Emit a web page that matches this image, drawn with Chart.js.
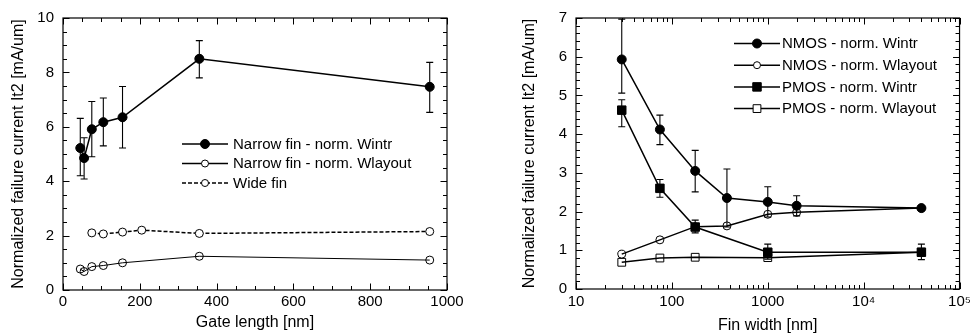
<!DOCTYPE html>
<html><head><meta charset="utf-8">
<script src="https://cdn.jsdelivr.net/npm/chart.js@4.4.1/dist/chart.umd.min.js"></script>
<style>
html,body{margin:0;padding:0;background:#fff;width:975px;height:336px;overflow:hidden}
.box{position:absolute;top:0;height:336px}
#l{left:0;width:487px}
#r{left:487px;width:488px}
</style></head><body>
<div class="box" id="l"><canvas id="c1"></canvas></div>
<div class="box" id="r"><canvas id="c2"></canvas></div>
<script>
// ---- Left chart data ----
const gateLength = [45, 55, 75, 105, 155, 355, 955];
const narrowWintr = [5.22, 4.85, 5.91, 6.17, 6.35, 8.5, 7.47];
const narrowWintrHigh = [6.31, 5.6, 6.93, 7.06, 7.48, 9.17, 8.37];
const narrowWintrLow = [4.2, 4.08, 4.9, 5.3, 5.22, 7.8, 6.53];
const narrowWlayout = [0.77, 0.68, 0.86, 0.9, 1.0, 1.24, 1.1];
const wideGateLength = [75, 105, 155, 205, 355, 955];
const wideFin = [2.1, 2.06, 2.13, 2.2, 2.08, 2.15];
const gateTicks = [0, 200, 400, 600, 800, 1000];
const leftYTicks = [0, 2, 4, 6, 8, 10];

// ---- Right chart data ----
const finWidth = [30, 75, 175, 375, 1000, 2000, 40000];
const nmosWintr = [5.93, 4.12, 3.05, 2.35, 2.25, 2.15, 2.09];
const nmosHigh = [6.97, 4.49, 3.58, 3.1, 2.64, 2.41, null];
const nmosLow = [5.06, 3.73, 2.51, 1.6, 1.86, 1.89, null];
const nmosWlayout = [0.9, 1.27, 1.61, 1.63, 1.93, 1.98, 2.09];
const pmosFinWidth = [30, 75, 175, 1000, 40000];
const pmosWintr = [4.62, 2.6, 1.6, 0.95, 0.95];
const pmosHigh = [4.89, 2.83, 1.78, 1.16, 1.16];
const pmosLow = [4.19, 2.37, 1.45, 0.77, 0.76];
const pmosWlayout = [0.69, 0.8, 0.82, 0.81, 0.95];
const finTicks = [10, 100, 1000, 10000, 100000];
const finTickLabels = ['10', '100', '1000', '10\u2074', '10\u2075'];
const rightYTicks = [0, 1, 2, 3, 4, 5, 6, 7];

const FONT = '"Liberation Sans", Arial, Helvetica, sans-serif';
const FS = 15;
Chart.defaults.font.family = FONT;
Chart.defaults.font.size = FS;
Chart.defaults.color = '#000';

const pts = (xs, ys) => xs.map((x, i) => ({x, y: ys[i]}));
function steps(min, max, step) { const a = []; for (let v = min; v <= max + 1e-9; v += step) a.push(+v.toFixed(6)); return a; }
function logMinor(minExp, maxExp) { const a = []; for (let e = minExp; e < maxExp; e++) for (let k = 1; k < 10; k++) a.push(k * Math.pow(10, e)); a.push(Math.pow(10, maxExp)); return a; }

const framePlugin = {
  id: 'frame',
  beforeDatasetsDraw(chart) {
    const ctx = chart.ctx, xs = chart.scales.x, ys = chart.scales.y;
    ctx.save();
    ctx.strokeStyle = '#000'; ctx.lineWidth = 1.1;
    chart.data.datasets.forEach(ds => {
      if (!ds.errHigh) return;
      ds.data.forEach((p, i) => {
        const hi = ds.errHigh[i], lo = ds.errLow[i];
        if (hi == null) return;
        const x = xs.getPixelForValue(p.x), yh = ys.getPixelForValue(hi), yl = ys.getPixelForValue(lo);
        ctx.beginPath();
        ctx.moveTo(x, yh); ctx.lineTo(x, yl);
        ctx.moveTo(x - 3.5, yh); ctx.lineTo(x + 3.5, yh);
        ctx.moveTo(x - 3.5, yl); ctx.lineTo(x + 3.5, yl);
        ctx.stroke();
      });
    });
    ctx.restore();
  },
  afterDraw(chart, args, o) {
    const ctx = chart.ctx, a = chart.chartArea, xs = chart.scales.x, ys = chart.scales.y;
    ctx.save();
    ctx.strokeStyle = '#000';
    ctx.lineWidth = 1.2;
    ctx.strokeRect(a.left, a.top, a.right - a.left, a.bottom - a.top);
    ctx.lineWidth = 1;
    ctx.beginPath();
    o.xMinor.forEach(v => {
      const x = Math.round(xs.getPixelForValue(v)) + 0.5;
      const L = o.xMajor.includes(v) ? 6.5 : 4;
      ctx.moveTo(x, a.bottom); ctx.lineTo(x, a.bottom - L);
      ctx.moveTo(x, a.top); ctx.lineTo(x, a.top + L);
    });
    o.yMinor.forEach(v => {
      const y = Math.round(ys.getPixelForValue(v)) + 0.5;
      const L = o.yMajor.includes(v) ? 6.5 : 4;
      ctx.moveTo(a.left, y); ctx.lineTo(a.left + L, y);
      ctx.moveTo(a.right, y); ctx.lineTo(a.right - L, y);
    });
    ctx.stroke();
    // legend
    const lg = o.legend;
    ctx.font = FS + 'px ' + FONT;
    ctx.textBaseline = 'middle';
    ctx.fillStyle = '#000';
    lg.items.forEach((it, i) => {
      const y = lg.y0 + i * lg.dy;
      ctx.save();
      ctx.lineWidth = it.lw; ctx.setLineDash(it.dash || []);
      ctx.beginPath(); ctx.moveTo(lg.x0, y); ctx.lineTo(lg.x1, y); ctx.stroke();
      ctx.restore();
      ctx.save();
      ctx.fillStyle = it.fill ? '#000' : '#fff';
      ctx.strokeStyle = '#000'; ctx.lineWidth = 1;
      Chart.helpers.drawPoint(ctx, {pointStyle: it.style, radius: it.r, rotation: 0, borderWidth: 1}, (lg.x0 + lg.x1) / 2, y);
      ctx.restore();
      ctx.fillText(it.label, lg.tx, y + 0.5);
    });
    ctx.restore();
  }
};

function axisCommon() {
  return { grid: {display: false, drawTicks: false}, border: {display: false} };
}

// ---------- Left chart ----------
new Chart(document.getElementById('c1'), {
  type: 'scatter',
  data: {
    datasets: [
      {label: 'Narrow fin - norm. Wintr', data: pts(gateLength, narrowWintr), errHigh: narrowWintrHigh, errLow: narrowWintrLow,
       showLine: true, borderColor: '#000', borderWidth: 1.5, pointRadius: 4.5, pointBackgroundColor: '#000', pointBorderColor: '#000', pointBorderWidth: 1},
      {label: 'Narrow fin - norm. Wlayout', data: pts(gateLength, narrowWlayout),
       showLine: true, borderColor: '#000', borderWidth: 1, pointRadius: 4, pointBackgroundColor: 'rgba(255,255,255,0)', pointBorderColor: '#000', pointBorderWidth: 1},
      {label: 'Wide fin', data: pts(wideGateLength, wideFin),
       showLine: true, borderColor: '#000', borderWidth: 1.5, borderDash: [4, 2], pointRadius: 4, pointBackgroundColor: '#fff', pointBorderColor: '#000', pointBorderWidth: 1}
    ]
  },
  options: {
    responsive: true, maintainAspectRatio: false, animation: false,
    layout: {padding: {left: 0, top: 16, right: 40, bottom: 0}},
    plugins: {
      legend: {display: false}, tooltip: {enabled: false},
      frame: {
        xMinor: steps(0, 1000, 50), xMajor: gateTicks,
        yMinor: steps(0, 10, 0.5), yMajor: leftYTicks,
        legend: {x0: 182, x1: 228, tx: 233, y0: 144, dy: 19.5, items: [
          {label: 'Narrow fin - norm. Wintr', style: 'circle', r: 4.5, fill: true, lw: 1.5},
          {label: 'Narrow fin - norm. Wlayout', style: 'circle', r: 3.5, fill: false, lw: 1.5},
          {label: 'Wide fin', style: 'circle', r: 3.5, fill: false, lw: 1.5, dash: [4, 2]}
        ]}
      }
    },
    scales: {
      x: Object.assign(axisCommon(), {
        type: 'linear', min: 0, max: 1000,
        afterBuildTicks(s) { s.ticks = gateTicks.map(v => ({value: v})); },
        ticks: {padding: 3, maxRotation: 0, autoSkip: false, callback: v => String(v)},
        title: {display: true, text: 'Gate length [nm]', font: {size: 16}, padding: {top: 0, bottom: 4}},
        afterFit(s) { s.height = 46; }
      }),
      y: Object.assign(axisCommon(), {
        min: 0, max: 10,
        afterBuildTicks(s) { s.ticks = leftYTicks.map(v => ({value: v})); },
        ticks: {padding: 9, autoSkip: false, callback: v => String(v)},
        title: {display: true, text: 'Normalized failure current It2 [mA/um]', font: {size: 16}, padding: {top: 9, bottom: 0}},
        afterFit(s) { s.width = 63; }
      })
    }
  },
  plugins: [framePlugin]
});

// ---------- Right chart ----------
new Chart(document.getElementById('c2'), {
  type: 'scatter',
  data: {
    datasets: [
      {label: 'NMOS - norm. Wintr', data: pts(finWidth, nmosWintr), errHigh: nmosHigh, errLow: nmosLow,
       showLine: true, borderColor: '#000', borderWidth: 1.5, pointRadius: 4.5, pointBackgroundColor: '#000', pointBorderColor: '#000', pointBorderWidth: 1},
      {label: 'NMOS - norm. Wlayout', data: pts(finWidth, nmosWlayout),
       showLine: true, borderColor: '#000', borderWidth: 1.5, pointRadius: 4, pointBackgroundColor: 'rgba(255,255,255,0)', pointBorderColor: '#000', pointBorderWidth: 1},
      {label: 'PMOS - norm. Wintr', data: pts(pmosFinWidth, pmosWintr), errHigh: pmosHigh, errLow: pmosLow,
       showLine: true, borderColor: '#000', borderWidth: 1.5, pointStyle: 'rect', pointRadius: 6, pointBackgroundColor: '#000', pointBorderColor: '#000', pointBorderWidth: 1},
      {label: 'PMOS - norm. Wlayout', data: pts(pmosFinWidth, pmosWlayout),
       showLine: true, borderColor: '#000', borderWidth: 1.5, pointStyle: 'rect', pointRadius: 5.5, pointBackgroundColor: 'rgba(255,255,255,0)', pointBorderColor: '#000', pointBorderWidth: 1}
    ]
  },
  options: {
    responsive: true, maintainAspectRatio: false, animation: false,
    layout: {padding: {left: 0, top: 14, right: 13, bottom: 0}},
    plugins: {
      legend: {display: false}, tooltip: {enabled: false},
      frame: {
        xMinor: logMinor(1, 5), xMajor: finTicks,
        yMinor: steps(0, 7, 0.2), yMajor: rightYTicks,
        legend: {x0: 247, x1: 293, tx: 295, y0: 43.5, dy: 21.7, items: [
          {label: 'NMOS - norm. Wintr', style: 'circle', r: 4.5, fill: true, lw: 1.5},
          {label: 'NMOS - norm. Wlayout', style: 'circle', r: 3.5, fill: false, lw: 1.5},
          {label: 'PMOS - norm. Wintr', style: 'rect', r: 6, fill: true, lw: 1.5},
          {label: 'PMOS - norm. Wlayout', style: 'rect', r: 5.5, fill: false, lw: 1.5}
        ]}
      }
    },
    scales: {
      x: Object.assign(axisCommon(), {
        type: 'logarithmic', min: 10, max: 100000,
        afterBuildTicks(s) { s.ticks = finTicks.map(v => ({value: v})); },
        ticks: {padding: 4, maxRotation: 0, autoSkip: false, callback: (v, i) => finTickLabels[i]},
        title: {display: true, text: 'Fin width [nm]', font: {size: 16}, padding: {top: 0, bottom: 1}},
        afterFit(s) { s.height = 47; }
      }),
      y: Object.assign(axisCommon(), {
        min: 0, max: 7,
        afterBuildTicks(s) { s.ticks = rightYTicks.map(v => ({value: v})); },
        ticks: {padding: 9, autoSkip: false, callback: v => String(v)},
        title: {display: true, text: 'Normalized failure current It2 [mA/um]', font: {size: 16}, padding: {top: 33, bottom: 0}},
        afterFit(s) { s.width = 89; }
      })
    }
  },
  plugins: [framePlugin]
});
</script>
</body></html>
